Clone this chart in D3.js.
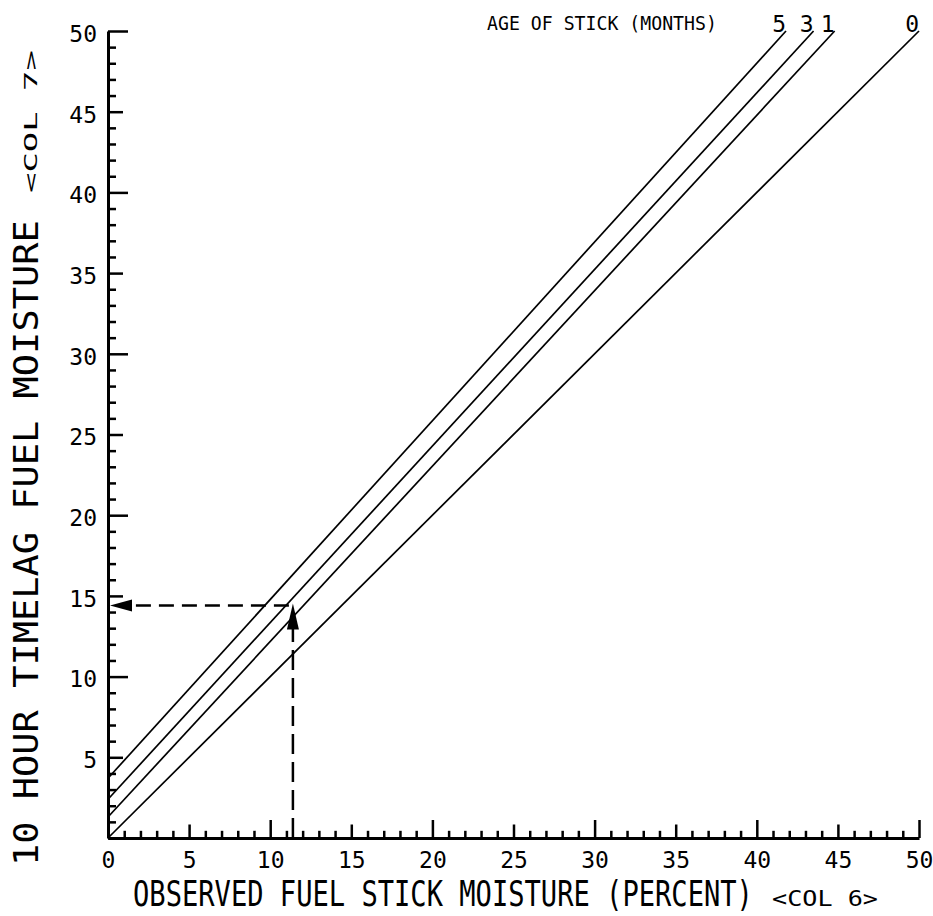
<!DOCTYPE html>
<html>
<head>
<meta charset="utf-8">
<script src="https://cdn.jsdelivr.net/npm/d3@7"></script>
<style>
    html, body { margin: 0; padding: 0; background: #fff; }
    svg { display: block; }
    text { font-family: "DejaVu Sans Mono", "Liberation Mono", monospace; fill: #000; }
</style>
</head>
<body>
<div class="chart__container"></div>
<script>
/*-------------------------------------INIT-------------------------------------*/

const CHART__WIDTH = 933;
const CHART__HEIGHT = 916;

const MARGIN = { top: 31, right: 14, bottom: 78, left: 108 };

// stick age lines: each runs from (0, intercept) to (topX, 50)
const AGES = ["5", "3", "1", "0"];
const INTERCEPTS = [3.7, 2.4, 1.3, 0];
const TOP_X = [41.8, 43.5, 44.8, 50];
const TOP_Y = [50, 50, 50, 50];

// worked example
const READ_X = [11.4];
const READ_Y = [14.4];

const X_TICK_LABELS = [0, 5, 10, 15, 20, 25, 30, 35, 40, 45, 50];
const Y_TICK_LABELS = [5, 10, 15, 20, 25, 30, 35, 40, 45, 50];
const MINOR_TICKS = d3.range(0, 51);

/*-------------------------------------Graph-------------------------------------*/

const SVG = d3.select(".chart__container").append("svg")
    .attr("width", CHART__WIDTH)
    .attr("height", CHART__HEIGHT);

const x = d3.scaleLinear().domain([0, 50]).range([MARGIN.left, 919]);
const y = d3.scaleLinear().domain([0, 50]).range([CHART__HEIGHT - MARGIN.bottom, MARGIN.top]);

const tickLen = d => d % 10 === 0 ? 20 : (d % 5 === 0 ? 15 : 8);

//squeeze a text to a given width with a scale, so its box stays true
const fitText = (px, py, rot, size, width, str) => {
    const t = SVG.append("text").attr("font-size", size).text(str);
    const natural = t.node().getComputedTextLength();
    t.attr("transform", `translate(${px},${py}) rotate(${rot}) scale(${width / natural},1)`);
    return t;
}

//Y axis, ticks pointing inward
const yAxis = SVG.append("g")
    .attr("transform", `translate(${x(0)},0)`)
    .call(d3.axisLeft(y).tickValues(MINOR_TICKS).tickSizeOuter(0)
        .tickFormat(d => Y_TICK_LABELS.includes(d) ? String(d) : ""));

yAxis.select(".domain").attr("stroke-width", 3);
yAxis.selectAll(".tick line").attr("x2", d => tickLen(d)).attr("stroke-width", 2.5);
yAxis.selectAll(".tick text")
    .attr("x", -11)
    .attr("dy", "0.45em")
    .attr("font-size", 23)
    .attr("text-anchor", "end");

//X axis, ticks pointing up
const xAxis = SVG.append("g")
    .attr("transform", `translate(0,${y(0)})`)
    .call(d3.axisBottom(x).tickValues(MINOR_TICKS).tickSizeOuter(0)
        .tickFormat(d => X_TICK_LABELS.includes(d) ? String(d) : ""));

xAxis.select(".domain").attr("stroke-width", 3);
xAxis.selectAll(".tick line").attr("y2", d => -(tickLen(d) * 0.9)).attr("stroke-width", 2.5);
xAxis.selectAll(".tick text")
    .attr("y", 14)
    .attr("dy", "0.71em")
    .attr("font-size", 23);

SVG.selectAll(".tick text").attr("font-family", null);
SVG.selectAll(".domain").attr("stroke", "#000");
SVG.selectAll(".tick line").attr("stroke", "#000");

//Age lines
const lineData = AGES.map((a, i) => ({
    age: a,
    pts: [[0, INTERCEPTS[i]], [TOP_X[i], TOP_Y[i]]]
}));

const line = d3.line().x(d => x(d[0])).y(d => y(d[1]));

SVG.append("g").selectAll("path")
    .data(lineData)
    .join("path")
    .attr("d", d => line(d.pts))
    .attr("fill", "none")
    .attr("stroke", "#000")
    .attr("stroke-width", 1.7);

SVG.append("g").selectAll("text")
    .data(lineData)
    .join("text")
    .attr("x", d => x(d.pts[1][0]))
    .attr("y", 32)
    .attr("text-anchor", "end")
    .attr("font-size", 23)
    .text(d => d.age);

//Title
fitText(487, 30, 0, 20, 230, "AGE OF STICK (MONTHS)");

//Dashed reading lines
SVG.append("line")
    .attr("x1", x(READ_X[0])).attr("y1", y(0))
    .attr("x2", x(READ_X[0])).attr("y2", y(READ_Y[0]) + 20)
    .attr("stroke", "#000")
    .attr("stroke-width", 2.5)
    .attr("stroke-dasharray", "20,8");

SVG.append("line")
    .attr("x1", x(READ_X[0]) - 4).attr("y1", y(READ_Y[0]))
    .attr("x2", x(0) + 18).attr("y2", y(READ_Y[0]))
    .attr("stroke", "#000")
    .attr("stroke-width", 2.5)
    .attr("stroke-dasharray", "15,8");

//Arrowheads
const ax = x(READ_X[0]), ay = y(READ_Y[0]);
SVG.append("path")
    .attr("d", `M${ax},${ay - 2} L${ax - 6},${ay + 24} L${ax + 6},${ay + 24} Z`)
    .attr("fill", "#000");

SVG.append("path")
    .attr("d", `M${x(0) + 2},${ay} L${x(0) + 24},${ay - 6} L${x(0) + 24},${ay + 6} Z`)
    .attr("fill", "#000");

//Axis titles
fitText(133, 906, 0, 35, 620, "OBSERVED FUEL STICK MOISTURE (PERCENT)");
fitText(772, 906, 0, 22, 106, "<COL 6>");
fitText(38, 866, -90, 34, 646, "10 HOUR TIMELAG FUEL MOISTURE");
fitText(37, 193, -90, 18, 143, "<COL 7>");
</script>
</body>
</html>
